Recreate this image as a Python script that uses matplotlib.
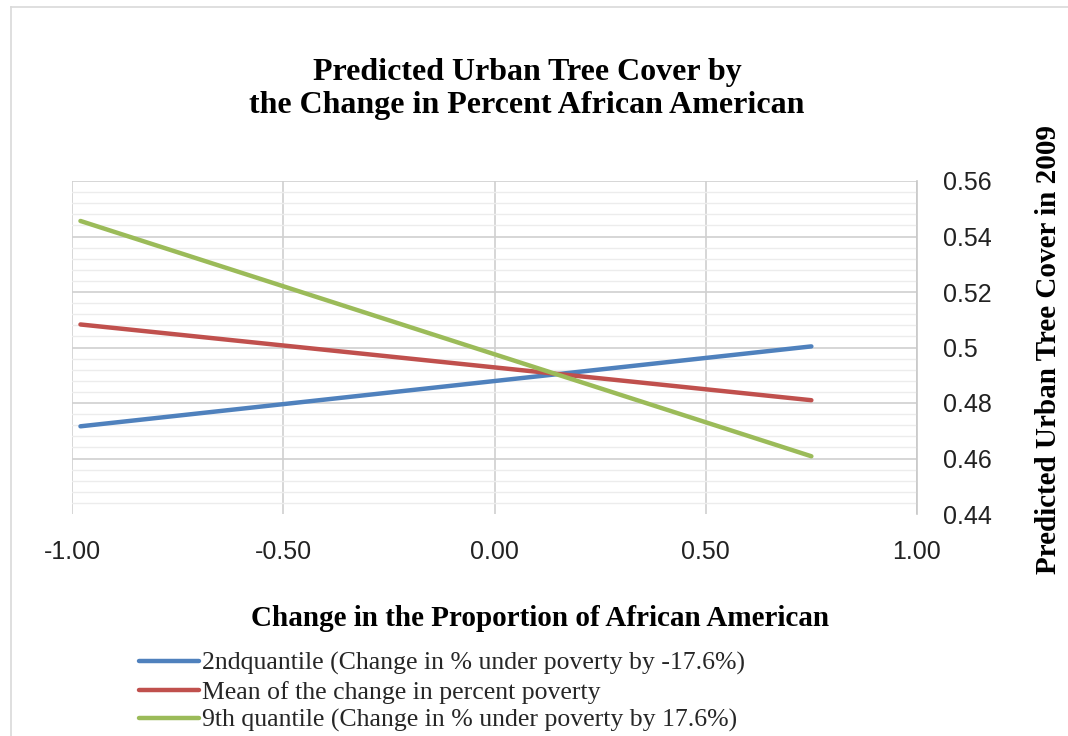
import matplotlib.pyplot as plt
from matplotlib.lines import Line2D
from matplotlib.ticker import MultipleLocator, FormatStrFormatter

# change in the proportion of African American (line endpoints)
x_vals = [-0.98, 0.75]
second_quantile = [0.4716, 0.5004]
mean_poverty = [0.5083, 0.4810]
ninth_quantile = [0.5456, 0.4608]

labels = ["2ndquantile (Change in % under poverty by -17.6%)",
          "Mean of the change in percent poverty",
          "9th quantile (Change in % under poverty by 17.6%)"]
colors = ["#4F81BD", "#C0504D", "#9BBB59"]

W, H = 1068, 736
fig = plt.figure(figsize=(W / 100, H / 100), dpi=100)
ax = fig.add_axes([72 / W, 1 - 514 / H, 845 / W, 333 / H])

for ys, lab, c in zip([second_quantile, mean_poverty, ninth_quantile], labels, colors):
    ax.plot(x_vals, ys, color=c, lw=3.2, solid_capstyle="round", label=lab)

ax.set_xlim(-1, 1)
ax.set_ylim(0.44, 0.56)
ax.xaxis.set_major_locator(MultipleLocator(0.5))
ax.xaxis.set_major_formatter(FormatStrFormatter("%.2f"))
ax.yaxis.set_major_locator(MultipleLocator(0.02))
ax.yaxis.set_minor_locator(MultipleLocator(0.004))
ax.yaxis.set_major_formatter(lambda v, p: "0.5" if f"{v:.2f}" == "0.50" else f"{v:.2f}")

ax.grid(axis="x", which="major", color="#d0d0d0", lw=1.2)
ax.grid(axis="y", which="major", color="#d0d0d0", lw=1.2)
ax.grid(axis="y", which="minor", color="#ececec", lw=1.0)
ax.set_axisbelow(True)

for s in ["left", "top", "bottom"]:
    ax.spines[s].set_visible(False)
ax.spines["right"].set_color("#c8c8c8")
ax.spines["right"].set_linewidth(1.2)

ax.yaxis.tick_right()
ax.tick_params(axis="y", which="both", length=0, pad=19, labelsize=18)
ax.tick_params(axis="x", length=0, pad=19, labelsize=18)
for t in ax.get_xticklabels() + ax.get_yticklabels():
    t.set_fontfamily("Liberation Sans")
    t.set_color("#222222")

fig.canvas.draw()
# no gridline along the bottom (0.44) edge
for tk in ax.yaxis.get_major_ticks() + ax.yaxis.get_minor_ticks():
    if tk.get_loc() < 0.441:
        tk.gridline.set_visible(False)

serif = "Liberation Serif"
fig.text(527 / W, 1 - 89 / H, "Predicted Urban Tree Cover by\nthe Change in Percent African American",
         ha="center", va="center", fontsize=23, fontweight="bold", family=serif, linespacing=1.18)
fig.text(540 / W, 1 - 618 / H, "Change in the Proportion of African American",
         ha="center", va="center", fontsize=21, fontweight="bold", family=serif)
fig.text(1048 / W, 1 - 350 / H, "Predicted Urban Tree Cover in 2009",
         ha="center", va="center", rotation=90, fontsize=21, fontweight="bold", family=serif)

leg = fig.legend(loc="upper left", bbox_to_anchor=(139 / W, 1 - 652 / H), frameon=False,
                 prop={"family": serif, "size": 18.5}, handlelength=2.35, handletextpad=0.1,
                 labelspacing=0.2, borderaxespad=0, borderpad=0)
for t in leg.get_texts():
    t.set_color("#262626")

# outer chart border
fig.add_artist(Line2D([10.5 / W, 10.5 / W], [0, 1 - 7 / H], transform=fig.transFigure, color="#d9d9d9", lw=1.2))
fig.add_artist(Line2D([10.5 / W, 1], [1 - 7 / H, 1 - 7 / H], transform=fig.transFigure, color="#d9d9d9", lw=1.2))

fig.savefig("out.png", dpi=100)
